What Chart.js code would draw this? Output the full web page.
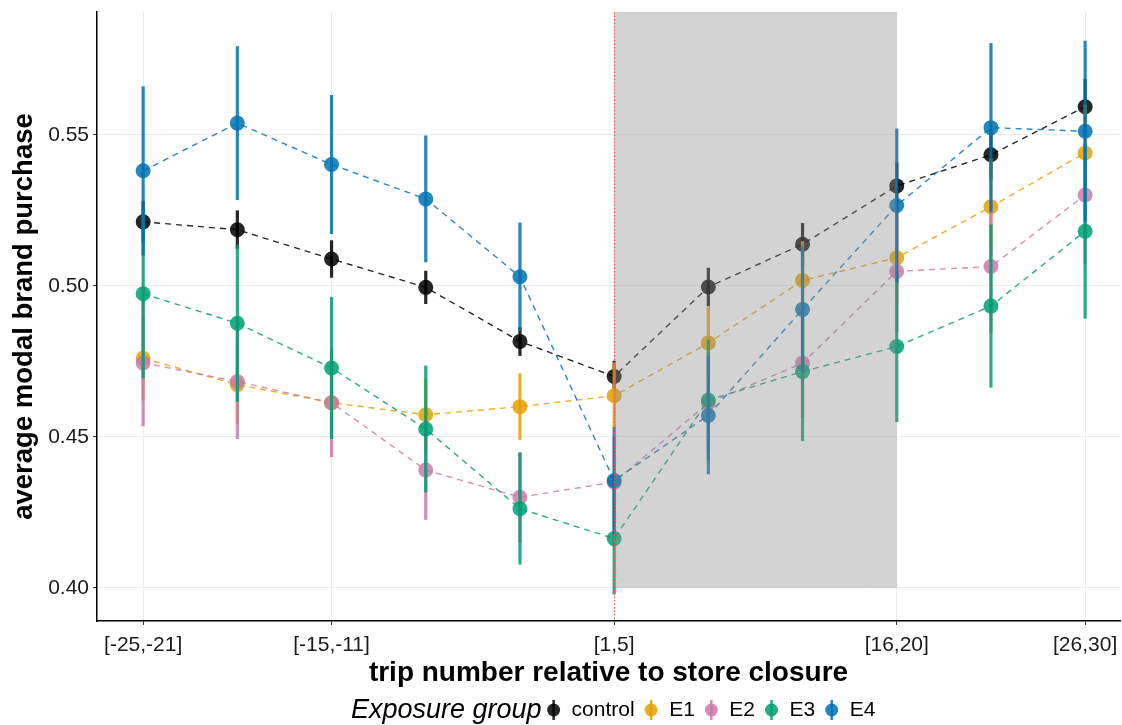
<!DOCTYPE html>
<html>
<head>
<meta charset="utf-8">
<script src="https://cdn.jsdelivr.net/npm/chart.js@4"></script>
<style>
  html, body { margin: 0; padding: 0; background: #ffffff; }
  #wrap { width: 1122px; height: 725px; }
</style>
</head>
<body>
<div id="wrap"><canvas id="c" width="1122" height="725"></canvas></div>
<script>
// Trip bins relative to the store closure
const categories = ['[-25,-21]', '[-20,-16]', '[-15,-11]', '[-10,-6]', '[-5,-1]',
  '[1,5]', '[6,10]', '[11,15]', '[16,20]', '[21,25]', '[26,30]'];
const shownTicks = ['[-25,-21]', '[-15,-11]', '[1,5]', '[16,20]', '[26,30]'];
const yTicks = [0.40, 0.45, 0.50, 0.55];

// Group labels
const groups = ['control', 'E1', 'E2', 'E3', 'E4'];

// Mean share of modal-brand purchases per bin, and half-width of the interval
const controlMean = [0.5212, 0.5186, 0.5089, 0.4995, 0.4816, 0.4700, 0.4996, 0.5138, 0.5331, 0.5434, 0.5593];
const controlErr  = [0.0068, 0.0064, 0.0062, 0.0055, 0.0048, 0.0052, 0.0064, 0.0070, 0.0078, 0.0085, 0.0092];
const e1Mean = [0.4760, 0.4673, 0.4613, 0.4573, 0.4600, 0.4636, 0.4811, 0.5018, 0.5093, 0.5262, 0.5440];
const e1Err  = [0.0140, 0.0130, 0.0120, 0.0120, 0.0110, 0.0110, 0.0120, 0.0130, 0.0150, 0.0160, 0.0160];
const e2Mean = [0.4745, 0.4683, 0.4613, 0.4390, 0.4300, 0.4350, 0.4612, 0.4744, 0.5048, 0.5064, 0.5301];
const e2Err  = [0.0210, 0.0190, 0.0180, 0.0165, 0.0150, 0.0150, 0.0170, 0.0180, 0.0200, 0.0220, 0.0230];
const e3Mean = [0.4974, 0.4876, 0.4728, 0.4526, 0.4262, 0.4163, 0.4622, 0.4716, 0.4799, 0.4933, 0.5181];
const e3Err  = [0.0280, 0.0260, 0.0235, 0.0210, 0.0185, 0.0185, 0.0200, 0.0230, 0.0250, 0.0270, 0.0290];
const e4Mean = [0.5381, 0.5539, 0.5402, 0.5288, 0.5030, 0.4355, 0.4571, 0.4922, 0.5266, 0.5524, 0.5512];
const e4Err  = [0.0280, 0.0255, 0.0230, 0.0210, 0.0180, 0.0177, 0.0195, 0.0210, 0.0255, 0.0280, 0.0300];

// Closure window (shaded) spans these bins
const shadeFrom = '[1,5]';
const shadeTo = '[16,20]';
const shadeBottom = 0.40;

const palette = ['0,0,0', '230,159,0', '204,121,167', '0,158,115', '0,114,178'];
const means = [controlMean, e1Mean, e2Mean, e3Mean, e4Mean];
const errs = [controlErr, e1Err, e2Err, e3Err, e4Err];

const FONT = "'Liberation Sans', Arial, Helvetica, sans-serif";
const alpha = 0.85;

const datasets = groups.map((g, k) => ({
  label: g,
  data: means[k].map((y, i) => ({ x: i, y: y })),
  err: errs[k],
  rgb: palette[k],
  order: groups.length - 1 - k,
  borderColor: `rgba(${palette[k]},${alpha})`,
  backgroundColor: `rgba(${palette[k]},${alpha})`,
  borderWidth: 1.4,
  borderDash: [6, 5],
  pointRadius: 7.5,
  pointBorderWidth: 0,
  pointHoverRadius: 7.5,
  tension: 0,
  fill: false
}));

// Vertical interval for each point, drawn under that group's line and points
const intervalPlugin = {
  id: 'intervals',
  beforeDatasetDraw(chart, args) {
    const ds = chart.data.datasets[args.index];
    const xs = chart.scales.x, ys = chart.scales.y;
    const ctx = chart.ctx;
    ctx.save();
    ctx.strokeStyle = `rgba(${ds.rgb},${alpha})`;
    ctx.lineWidth = 3.2;
    ctx.lineCap = 'butt';
    ds.data.forEach((p, i) => {
      const px = xs.getPixelForValue(p.x);
      ctx.beginPath();
      ctx.moveTo(px, ys.getPixelForValue(p.y - ds.err[i]));
      ctx.lineTo(px, ys.getPixelForValue(p.y + ds.err[i]));
      ctx.stroke();
    });
    ctx.restore();
  }
};

// Closure window overlay and the dotted marker at its start
const windowPlugin = {
  id: 'closureWindow',
  afterDatasetsDraw(chart) {
    const { ctx, chartArea } = chart;
    const xs = chart.scales.x, ys = chart.scales.y;
    const x0 = xs.getPixelForValue(categories.indexOf(shadeFrom));
    const x1 = xs.getPixelForValue(categories.indexOf(shadeTo));
    const yb = ys.getPixelForValue(shadeBottom);
    ctx.save();
    ctx.fillStyle = 'rgba(140,140,140,0.38)';
    ctx.fillRect(x0, chartArea.top, x1 - x0, yb - chartArea.top);
    const lx = Math.round(x0) + 0.5;
    ctx.strokeStyle = '#ff5050';
    ctx.lineWidth = 1.2;
    ctx.setLineDash([1.5, 2]);
    ctx.beginPath();
    ctx.moveTo(lx, chartArea.top);
    ctx.lineTo(lx, chartArea.bottom);
    ctx.stroke();
    ctx.restore();
  }
};

// Legend row below the x-axis title
const legendPlugin = {
  id: 'groupLegend',
  afterDraw(chart) {
    const ctx = chart.ctx;
    const cy = 710;
    ctx.save();
    ctx.textBaseline = 'middle';
    ctx.fillStyle = '#000';
    ctx.font = `italic 27px ${FONT}`;
    let x = 351;
    ctx.fillText('Exposure group', x, cy);
    x += ctx.measureText('Exposure group').width + 12;
    ctx.font = `21px ${FONT}`;
    chart.data.datasets.forEach((ds) => {
      ctx.strokeStyle = `rgba(${ds.rgb},${alpha})`;
      ctx.lineWidth = 2.5;
      ctx.beginPath();
      ctx.moveTo(x, cy - 10);
      ctx.lineTo(x, cy + 10);
      ctx.stroke();
      ctx.fillStyle = `rgba(${ds.rgb},${alpha})`;
      ctx.beginPath();
      ctx.arc(x, cy, 6.5, 0, Math.PI * 2);
      ctx.fill();
      ctx.fillStyle = '#000';
      ctx.fillText(ds.label, x + 18, cy);
      x += 18 + ctx.measureText(ds.label).width + 16.5;
    });
    ctx.restore();
  }
};

new Chart(document.getElementById('c'), {
  type: 'line',
  data: { datasets },
  plugins: [intervalPlugin, windowPlugin, legendPlugin],
  options: {
    responsive: false,
    animation: false,
    events: [],
    layout: { autoPadding: false, padding: { left: 0, right: 2, top: 12, bottom: 35 } },
    plugins: { legend: { display: false }, tooltip: { enabled: false } },
    scales: {
      x: {
        type: 'linear',
        min: -0.49,
        max: 10.37,
        afterBuildTicks(scale) {
          scale.ticks = shownTicks.map(l => ({ value: categories.indexOf(l) }));
        },
        afterFit(scale) {
          scale.height = 69;
          scale.paddingLeft = 0;
          scale.paddingRight = 0;
        },
        ticks: {
          color: '#1a1a1a',
          font: { family: FONT, size: 21 },
          padding: 8,
          maxRotation: 0,
          autoSkip: false,
          callback: (v) => categories[v]
        },
        grid: { color: '#ebebeb', lineWidth: 1, tickColor: '#333', tickLength: 4 },
        border: { display: true, color: '#000', width: 1.5 },
        title: {
          display: true,
          text: 'trip number relative to store closure',
          color: '#000',
          font: { family: FONT, size: 28, weight: 'bold' },
          padding: { top: 0, bottom: 0 }
        }
      },
      y: {
        type: 'linear',
        min: 0.389,
        max: 0.5907,
        afterBuildTicks(scale) {
          scale.ticks = yTicks.map(v => ({ value: v }));
        },
        afterFit(scale) {
          scale.width = 97;
          scale.paddingTop = 0;
          scale.paddingBottom = 0;
        },
        ticks: {
          color: '#1a1a1a',
          font: { family: FONT, size: 21 },
          padding: 4,
          callback: (v) => v.toFixed(2)
        },
        grid: { color: '#ebebeb', lineWidth: 1, tickColor: '#333', tickLength: 4 },
        border: { display: true, color: '#000', width: 1.5 },
        title: {
          display: true,
          text: 'average modal brand purchase',
          color: '#000',
          font: { family: FONT, size: 27.5, weight: 'bold' },
          padding: { top: 8, bottom: 0 }
        }
      }
    }
  }
});
</script>
</body>
</html>
